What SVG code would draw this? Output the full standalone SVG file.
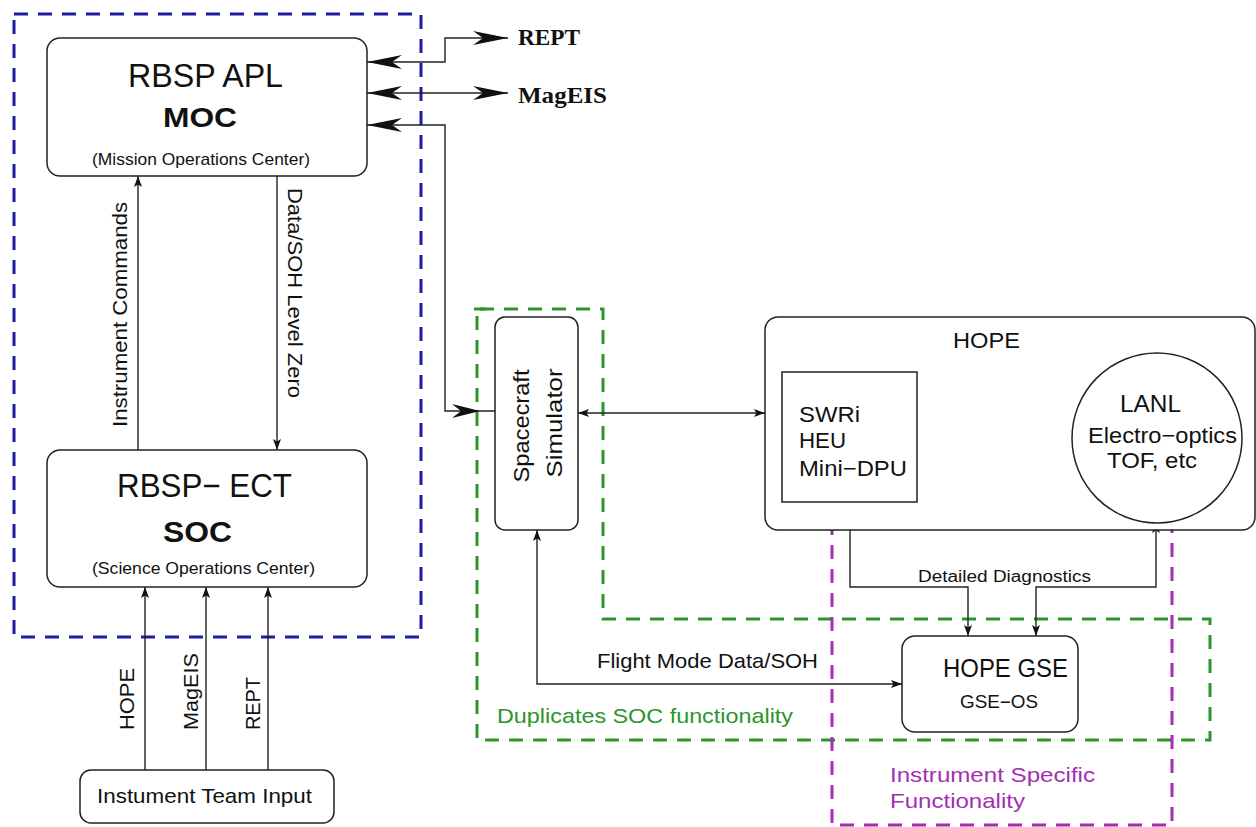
<svg xmlns="http://www.w3.org/2000/svg" width="1256" height="827" viewBox="0 0 1256 827">
<style>
.box{fill:#fff;stroke:#222;stroke-width:1.5}
.ln{fill:none;stroke:#222;stroke-width:1.4}
.t{font-family:"Liberation Sans",Arial,sans-serif;fill:#111}
.b{font-family:"Liberation Serif","Times New Roman",serif;font-weight:bold;fill:#111}
.blue{fill:none;stroke:#1c1ca0;stroke-width:3;stroke-dasharray:14 10}
.green{fill:none;stroke:#2a952a;stroke-width:3;stroke-dasharray:14 10}
.mag{fill:none;stroke:#a42eb4;stroke-width:3;stroke-dasharray:14 10}
.gt{fill:#2a952a}
.mt{fill:#a42eb4}
</style>
<defs>
<marker id="big" markerUnits="userSpaceOnUse" markerWidth="36" markerHeight="14" refX="35" refY="7" orient="auto-start-reverse"><path d="M0,0 L35,7 L0,14 L10,7 Z" fill="#111"/></marker>
<marker id="sm" markerUnits="userSpaceOnUse" markerWidth="12" markerHeight="8" refX="11" refY="4" orient="auto-start-reverse"><path d="M0,0 L11,4 L0,8 L2.5,4 Z" fill="#111"/></marker>
</defs>

<g id="groups">
<rect class="blue" x="14" y="14" width="407" height="623"/>
<path class="green" d="M480,309 H603 V619 H1210 V740 H477 V309"/>
<path d="M474,309 H486" stroke="#2a952a" stroke-width="3"/>
<rect class="mag" x="832" y="523" width="340" height="302"/>
<text class="t gt" x="497" y="723" font-size="21" textLength="296" lengthAdjust="spacingAndGlyphs">Duplicates SOC functionality</text>
<text class="t mt" x="890" y="782" font-size="21" textLength="205" lengthAdjust="spacingAndGlyphs">Instrument Specific</text>
<text class="t mt" x="890" y="808" font-size="21" textLength="135" lengthAdjust="spacingAndGlyphs">Functionality</text>
</g>

<g id="connectors">
<path class="ln" d="M138,450 V176" marker-end="url(#sm)"/>
<path class="ln" d="M277,176 V450" marker-end="url(#sm)"/>
<path class="ln" d="M145,770 V587" marker-end="url(#sm)"/>
<path class="ln" d="M206,770 V587" marker-end="url(#sm)"/>
<path class="ln" d="M268,770 V587" marker-end="url(#sm)"/>
<path class="ln" d="M367,62 H445 V38 H508" marker-start="url(#big)" marker-end="url(#big)"/>
<path class="ln" d="M367,93 H508" marker-start="url(#big)" marker-end="url(#big)"/>
<path class="ln" d="M367,125 H445 V411 H495" marker-start="url(#big)"/>
<path d="M452,404 L480,411 L452,418 L461,411 Z" fill="#111"/>
<path class="ln" d="M578,413 H765" marker-start="url(#sm)" marker-end="url(#sm)"/>
<path class="ln" d="M917,389 H1053 L1078,406" marker-end="url(#sm)"/>
<path class="ln" d="M1076,470 L1053,484 H917" marker-end="url(#sm)"/>
<path class="ln" d="M850,501 V587 H968 V636" marker-start="url(#sm)" marker-end="url(#sm)"/>
<path class="ln" d="M1156,522 V587 H1036 V636" marker-start="url(#sm)" marker-end="url(#sm)"/>
<path class="ln" d="M537,530 V684 H902" marker-start="url(#sm)" marker-end="url(#sm)"/>
<text class="t" x="0" y="0" font-size="20" textLength="225" lengthAdjust="spacingAndGlyphs" transform="translate(127,427) rotate(-90)">Instrument Commands</text>
<text class="t" x="0" y="0" font-size="20" textLength="210" lengthAdjust="spacingAndGlyphs" transform="translate(288,188) rotate(90)">Data/SOH Level Zero</text>
<text class="t" x="0" y="0" font-size="21" textLength="62" lengthAdjust="spacingAndGlyphs" transform="translate(134,730) rotate(-90)">HOPE</text>
<text class="t" x="0" y="0" font-size="21" textLength="77" lengthAdjust="spacingAndGlyphs" transform="translate(198,730) rotate(-90)">MagEIS</text>
<text class="t" x="0" y="0" font-size="21" textLength="53" lengthAdjust="spacingAndGlyphs" transform="translate(260,730) rotate(-90)">REPT</text>
<text class="b" x="518" y="45" font-size="24" textLength="62" lengthAdjust="spacingAndGlyphs">REPT</text>
<text class="b" x="518" y="103" font-size="24" textLength="89" lengthAdjust="spacingAndGlyphs">MagEIS</text>
<text class="t" x="978" y="413" font-size="15" textLength="24" lengthAdjust="spacingAndGlyphs">HV</text>
<text class="t" x="978" y="477" font-size="15" textLength="39" lengthAdjust="spacingAndGlyphs">Data</text>
<text class="t" x="918" y="582" font-size="16" textLength="173" lengthAdjust="spacingAndGlyphs">Detailed Diagnostics</text>
<text class="t" x="597" y="668" font-size="21" textLength="221" lengthAdjust="spacingAndGlyphs">Flight Mode Data/SOH</text>
</g>

<g id="moc">
<rect class="box" x="47" y="38" width="320" height="138" rx="13"/>
<text class="t" x="128" y="87" font-size="33" textLength="155" lengthAdjust="spacingAndGlyphs">RBSP APL</text>
<text class="t" x="163" y="127" font-size="28" font-weight="bold" textLength="74" lengthAdjust="spacingAndGlyphs">MOC</text>
<text class="t" x="92" y="165" font-size="17" textLength="218" lengthAdjust="spacingAndGlyphs">(Mission Operations Center)</text>
</g>

<g id="soc">
<rect class="box" x="47" y="450" width="320" height="137" rx="13"/>
<text class="t" x="117" y="497" font-size="33" textLength="175" lengthAdjust="spacingAndGlyphs">RBSP− ECT</text>
<text class="t" x="163" y="542" font-size="29" font-weight="bold" textLength="69" lengthAdjust="spacingAndGlyphs">SOC</text>
<text class="t" x="92" y="574" font-size="17" textLength="223" lengthAdjust="spacingAndGlyphs">(Science Operations Center)</text>
</g>

<g id="input">
<rect class="box" x="80" y="770" width="254" height="53" rx="11"/>
<text class="t" x="97" y="803" font-size="21" textLength="215" lengthAdjust="spacingAndGlyphs">Instument Team Input</text>
</g>

<g id="sim">
<rect class="box" x="495" y="317" width="83" height="213" rx="10"/>
<text class="t" x="0" y="0" font-size="22" text-anchor="middle" textLength="113" lengthAdjust="spacingAndGlyphs" transform="translate(529,426) rotate(-90)">Spacecraft</text>
<text class="t" x="0" y="0" font-size="22" text-anchor="middle" textLength="109" lengthAdjust="spacingAndGlyphs" transform="translate(562,423) rotate(-90)">Simulator</text>
</g>

<g id="hope">
<rect class="box" x="765" y="317" width="490" height="213" rx="13"/>
<text class="t" x="953" y="348" font-size="22" textLength="67" lengthAdjust="spacingAndGlyphs">HOPE</text>
</g>

<g id="swri">
<rect class="box" x="782" y="372" width="135" height="130"/>
<text class="t" x="799" y="422" font-size="22" textLength="61" lengthAdjust="spacingAndGlyphs">SWRi</text>
<text class="t" x="799" y="448" font-size="22" textLength="47" lengthAdjust="spacingAndGlyphs">HEU</text>
<text class="t" x="799" y="476" font-size="22" textLength="108" lengthAdjust="spacingAndGlyphs">Mini−DPU</text>
</g>

<g id="lanl">
<circle class="box" cx="1157" cy="438" r="85"/>
<text class="t" x="1120" y="412" font-size="24" textLength="61" lengthAdjust="spacingAndGlyphs">LANL</text>
<text class="t" x="1088" y="443" font-size="22" textLength="149" lengthAdjust="spacingAndGlyphs">Electro−optics</text>
<text class="t" x="1107" y="468" font-size="22" textLength="90" lengthAdjust="spacingAndGlyphs">TOF, etc</text>
</g>

<g id="gse">
<rect class="box" x="902" y="636" width="176" height="96" rx="13"/>
<text class="t" x="943" y="677" font-size="26" textLength="125" lengthAdjust="spacingAndGlyphs">HOPE GSE</text>
<text class="t" x="960" y="708" font-size="18" textLength="78" lengthAdjust="spacingAndGlyphs">GSE−OS</text>
</g>
</svg>
